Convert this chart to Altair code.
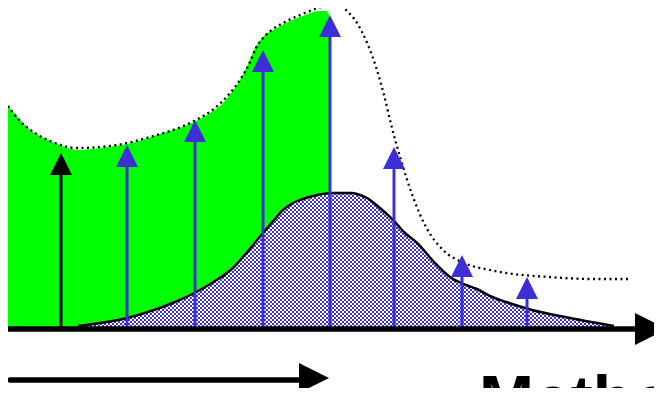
import altair as alt
import pandas as pd

# ---- data (x = position, y = level above baseline) ----
green_x = [8, 15, 22, 30, 42, 55, 78, 100, 127, 160, 194, 210, 222, 232, 240, 248, 254, 262, 275, 290, 305, 318, 326, 329]
green_y = [223, 215, 207, 199, 192, 186, 179, 181, 185, 195, 207, 216, 225, 237, 249, 265, 279, 291, 300, 308, 314, 318, 318, 314]

dot_x = [8, 20, 35, 50, 77, 110, 150, 194, 215, 230, 240, 250, 256, 265, 285, 305, 318, 330, 342, 348, 355, 362, 368, 376, 384, 392, 401, 413, 426, 443, 464, 490, 506, 549, 591, 631]
dot_y = [223, 208, 196, 188, 181, 183, 192, 208, 221, 236, 249, 267, 281, 293, 307, 316, 321, 324, 322, 317, 309, 297, 284, 262, 234, 201, 169, 132, 102, 79, 66, 59, 56, 52, 50, 50]

blue_x = [78, 127, 148, 175, 200, 215, 233, 248, 263, 274, 283, 293, 300, 317, 333, 352, 357, 367, 380, 393, 405, 417, 435, 450, 466, 477, 490, 506, 532, 570, 614]
blue_y = [3, 11, 17, 27, 39, 48, 61, 78, 96, 109, 119, 126, 129, 134, 136, 136, 135, 131, 121, 109, 96, 86, 66, 52, 44, 40, 33, 27, 19, 11, 3]

arrow_x = [61, 127, 195, 263, 330, 394, 462, 527]
arrow_tip = [176, 184, 209, 279, 314, 182, 74, 52]
arrow_color = ["#000000", "#3b2fd5", "#3b2fd5", "#3b2fd5", "#3b2fd5", "#3b2fd5", "#3b2fd5", "#3b2fd5"]

axis_x = [8, 640]
axis_level = [0, 0]
axis_head_x = [651]
axis_head_y = [0]

low_arrow_x = [10, 305]
low_arrow_level = [-51, -51]
low_head_x = [314]
low_head_y = [-49]

label_text = ["Methods"]
label_x = [479]
label_y = [-93]

XS = alt.Scale(domain=[8, 654])
YS = alt.Scale(domain=[-59, 321])

green = pd.DataFrame({"x": green_x, "y": green_y, "b": 0})
dots = pd.DataFrame({"x": dot_x, "y": dot_y})
blue = pd.DataFrame({"x": blue_x, "y": blue_y, "b": 0})
arrows = pd.DataFrame({"x": arrow_x, "tip": arrow_tip, "c": arrow_color})
arrows["shaft_top"] = arrows["tip"] - 14
arrows["head"] = arrows["tip"] - 11
arrows["bottom"] = -2
axis = pd.DataFrame({"x": axis_x, "y": axis_level})
axis_head = pd.DataFrame({"x": axis_head_x, "y": axis_head_y})
low = pd.DataFrame({"x": low_arrow_x, "y": low_arrow_level})
low_head = pd.DataFrame({"x": low_head_x, "y": low_head_y})
label = pd.DataFrame({"t": label_text, "x": label_x, "y": label_y})

X = lambda f: alt.X(f, type="quantitative", scale=XS, axis=None)
Y = lambda f: alt.Y(f, type="quantitative", scale=YS, axis=None)


# ---- checkered fill: 2px stripes in x XOR 2px stripes in y, then tinted blue ----
def stripes(n, horizontal):
    stops = []
    for k in range(n):
        col = "#000000" if k % 2 == 0 else "#ffffff"
        stops.append(alt.GradientStop(offset=k / n, color=col))
        stops.append(alt.GradientStop(offset=(k + 1) / n, color=col))
    if horizontal:
        return alt.LinearGradient(gradient="linear", stops=stops, x1=0, x2=1, y1=0, y2=0)
    return alt.LinearGradient(gradient="linear", stops=stops, x1=0, x2=0, y1=0, y2=1)


cell = 2
nx = int(round((max(blue_x) - min(blue_x)) / cell))
ny = int(round(max(blue_y) / cell))

green_area = alt.Chart(green).mark_area(color="#00ff00", interpolate="monotone").encode(
    x=X("x"), y=Y("y"), y2="b")

check_a = alt.Chart(blue).mark_area(color=stripes(nx, True), interpolate="monotone").encode(
    x=X("x"), y=Y("y"), y2="b")
check_b = alt.Chart(blue).mark_area(color=stripes(ny, False), interpolate="monotone", blend="difference").encode(
    x=X("x"), y=Y("y"), y2="b")
check_c = alt.Chart(blue).mark_area(color="#3b30da", interpolate="monotone", blend="lighten").encode(
    x=X("x"), y=Y("y"), y2="b")

blue_outline = alt.Chart(blue).mark_line(color="black", strokeWidth=2.5, interpolate="monotone").encode(
    x=X("x"), y=Y("y"))

dotted = alt.Chart(dots).mark_line(color="black", strokeWidth=2.3, strokeDash=[2, 3.5], interpolate="monotone").encode(
    x=X("x"), y=Y("y"))

shafts = alt.Chart(arrows).mark_rule(strokeWidth=3).encode(
    x=X("x"), y=Y("bottom"), y2="shaft_top", color=alt.Color("c:N", scale=None))

tri_up = "M0,-1L1,1L-1,1Z"
heads = alt.Chart(arrows).mark_point(shape=tri_up, size=484, filled=True, opacity=1, strokeWidth=0).encode(
    x=X("x"), y=Y("head"), color=alt.Color("c:N", scale=None))

axis_line = alt.Chart(axis).mark_line(color="black", strokeWidth=5.5, strokeCap="round").encode(
    x=X("x"), y=Y("y"))

tri_right = "M-1,-1L1,0L-1,1Z"
axis_tip = alt.Chart(axis_head).mark_point(shape=tri_right, size=1024, filled=True, opacity=1, strokeWidth=0, color="black").encode(
    x=X("x"), y=Y("y"))

low_line = alt.Chart(low).mark_line(color="black", strokeWidth=5.5, strokeCap="round").encode(
    x=X("x"), y=Y("y"))

low_tip = alt.Chart(low_head).mark_point(shape=tri_right, size=900, filled=True, opacity=1, strokeWidth=0, color="black").encode(
    x=X("x"), y=Y("y"))

text = alt.Chart(label).mark_text(font="Liberation Sans", fontWeight="bold", fontSize=66, align="left",
                                  baseline="alphabetic", color="black").encode(
    x=X("x"), y=Y("y"), text="t:N")

chart = alt.layer(green_area, check_a, check_b, check_c, blue_outline, dotted, shafts, heads,
                  axis_line, axis_tip, low_line, low_tip, text).properties(
    width=646, height=380, padding=0,
    autosize=alt.AutoSizeParams(type="none"),
    background="white",
).configure_view(stroke=None)

chart.save("out.html", embed_options={"renderer": "svg", "actions": False})
